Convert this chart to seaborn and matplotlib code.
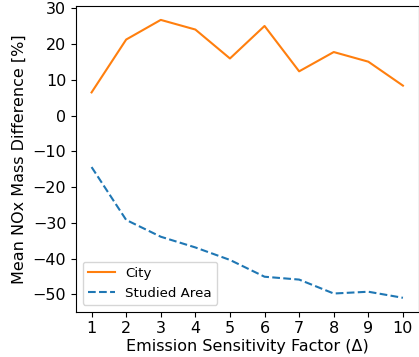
import matplotlib
matplotlib.use("Agg")
import matplotlib.pyplot as plt
import seaborn as sns
import pandas as pd

factors = [1, 2, 3, 4, 5, 6, 7, 8, 9, 10]
city = [6.5, 21.3, 26.8, 24.1, 16.0, 25.1, 12.4, 17.8, 15.1, 8.4]
studied_area = [-14.4, -29.2, -33.9, -36.9, -40.4, -45.1, -45.9, -49.8, -49.3, -51.0]

df = pd.DataFrame({"factor": factors, "City": city, "Studied Area": studied_area})

W, H = 419, 357
fig = plt.figure(figsize=(W / 100, H / 100), dpi=100)
ax = fig.add_axes([76 / W, 1 - 311.7 / H, (418.5 - 76) / W, (311.7 - 6) / H])

sns.lineplot(data=df, x="factor", y="City", ax=ax, color="tab:orange", label="City")
sns.lineplot(data=df, x="factor", y="Studied Area", ax=ax, color="tab:blue",
             linestyle="--", label="Studied Area")

ax.set_xticks(factors)
ax.set_yticks(range(-50, 31, 10))
ax.set_xlabel("Emission Sensitivity Factor (\u0394)", fontsize=11.5, labelpad=2)
ax.set_ylabel("Mean NOx Mass Difference [%]", fontsize=11.5)
ax.tick_params(labelsize=11.5)
ax.legend(loc="lower left", fontsize=9.6)

fig.savefig("out.png", dpi=100)
